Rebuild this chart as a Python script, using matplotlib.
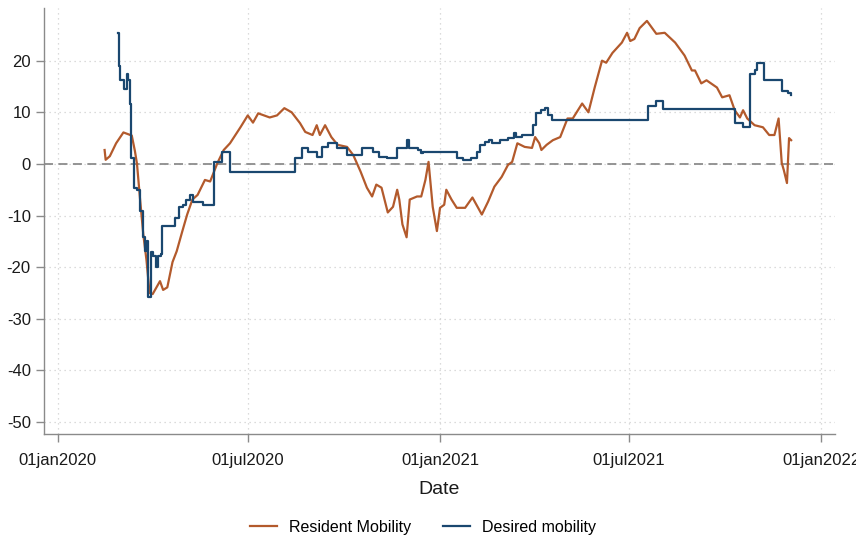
import matplotlib
matplotlib.use("Agg")
import matplotlib.pyplot as plt
import pandas as pd

plt.rcParams.update(
    {
        "font.family": "sans-serif",
        "font.sans-serif": ["Liberation Sans", "Arial", "DejaVu Sans"],
        "axes.unicode_minus": False,
    }
)

RESIDENT_COLOR = "#b35a2c"
DESIRED_COLOR = "#1a476f"

# Resident mobility (daily-ish readings)
resident_dates = [
    "2020-02-15", "2020-02-16", "2020-02-20", "2020-02-26", "2020-03-04", "2020-03-12",
    "2020-03-15", "2020-03-17", "2020-03-20", "2020-03-23", "2020-03-26", "2020-03-29",
    "2020-04-01", "2020-04-08", "2020-04-11", "2020-04-15", "2020-04-20", "2020-04-24",
    "2020-04-29", "2020-05-04", "2020-05-09", "2020-05-14", "2020-05-21", "2020-05-26",
    "2020-06-02", "2020-06-08", "2020-06-14", "2020-06-24", "2020-07-01", "2020-07-06",
    "2020-07-11", "2020-07-22", "2020-07-29", "2020-08-05", "2020-08-12", "2020-08-20",
    "2020-08-25", "2020-09-01", "2020-09-05", "2020-09-08", "2020-09-13", "2020-09-19",
    "2020-09-25", "2020-10-04", "2020-10-10", "2020-10-17", "2020-10-23", "2020-10-28",
    "2020-11-01", "2020-11-06", "2020-11-12", "2020-11-17", "2020-11-21", "2020-11-23",
    "2020-11-26", "2020-11-30", "2020-12-03", "2020-12-10", "2020-12-14", "2020-12-18",
    "2020-12-21", "2020-12-25", "2020-12-29", "2021-01-01", "2021-01-05", "2021-01-07",
    "2021-01-12", "2021-01-17", "2021-01-25", "2021-02-01", "2021-02-10", "2021-02-16",
    "2021-02-22", "2021-03-01", "2021-03-07", "2021-03-11", "2021-03-16", "2021-03-23",
    "2021-03-30", "2021-04-02", "2021-04-06", "2021-04-08", "2021-04-13", "2021-04-19",
    "2021-04-26", "2021-05-03", "2021-05-08", "2021-05-17", "2021-05-23", "2021-05-29",
    "2021-06-05", "2021-06-09", "2021-06-15", "2021-06-24", "2021-06-29", "2021-07-02",
    "2021-07-06", "2021-07-11", "2021-07-18", "2021-07-27", "2021-08-04", "2021-08-14",
    "2021-08-23", "2021-08-30", "2021-09-02", "2021-09-08", "2021-09-13", "2021-09-23",
    "2021-09-28", "2021-10-05", "2021-10-10", "2021-10-15", "2021-10-18", "2021-10-22",
    "2021-10-29", "2021-11-06", "2021-11-12", "2021-11-17", "2021-11-21", "2021-11-24",
    "2021-11-26", "2021-11-29", "2021-12-01", "2021-12-03",
]
resident_values = [
    2.7, 0.8, 1.5, 4.0, 6.1, 5.5,
    2.5, 0.0, -7.0, -13.6, -18.5, -25.0,
    -25.2, -22.7, -24.4, -23.9, -19.0, -16.9,
    -13.3, -9.8, -6.9, -6.0, -3.1, -3.4,
    0.2, 2.7, 4.0, 7.1, 9.4, 8.0,
    9.8, 9.0, 9.4, 10.8, 10.0, 7.9,
    6.2, 5.6, 7.5, 5.6, 7.5, 5.2,
    3.7, 3.3, 1.7, -1.5, -4.6, -6.3,
    -4.0, -4.6, -9.4, -8.3, -5.0, -6.9,
    -11.7, -14.2, -6.9, -6.3, -6.3, -3.1,
    0.4, -8.3, -13.0, -8.5, -7.9, -5.0,
    -6.9, -8.5, -8.5, -6.5, -9.8, -7.3,
    -4.4, -2.5, -0.2, 0.4, 4.0, 3.3,
    3.1, 5.2, 4.0, 2.7, 3.7, 4.6,
    5.2, 8.8, 8.8, 11.7, 10.0, 14.8,
    20.0, 19.6, 21.5, 23.5, 25.4, 23.8,
    24.2, 26.3, 27.7, 25.2, 25.4, 23.5,
    21.0, 18.1, 18.1, 15.6, 16.2, 14.8,
    12.9, 13.3, 10.4, 9.0, 10.4, 8.8,
    7.5, 7.1, 5.6, 5.6, 8.8, 0.2,
    -1.2, -3.7, 5.0, 4.6,
]

# Desired mobility (step changes, value holds until next date)
desired_dates = [
    "2020-02-28", "2020-02-29", "2020-03-01", "2020-03-05", "2020-03-07", "2020-03-08",
    "2020-03-10", "2020-03-11", "2020-03-14", "2020-03-17", "2020-03-20", "2020-03-23",
    "2020-03-25", "2020-03-27", "2020-03-28", "2020-03-30", "2020-04-01", "2020-04-04",
    "2020-04-06", "2020-04-09", "2020-04-10", "2020-04-22", "2020-04-26", "2020-04-30",
    "2020-05-03", "2020-05-07", "2020-05-10", "2020-05-19", "2020-05-30", "2020-06-06",
    "2020-06-14", "2020-08-15", "2020-08-22", "2020-08-28", "2020-09-05", "2020-09-10",
    "2020-09-16", "2020-09-24", "2020-10-04", "2020-10-18", "2020-10-29", "2020-11-04",
    "2020-11-11", "2020-11-21", "2020-11-30", "2020-12-02", "2020-12-11", "2020-12-14",
    "2020-12-16", "2021-01-17", "2021-01-23", "2021-01-31", "2021-02-05", "2021-02-08",
    "2021-02-13", "2021-02-17", "2021-02-20", "2021-02-27", "2021-03-07", "2021-03-13",
    "2021-03-15", "2021-03-20", "2021-03-31", "2021-04-03", "2021-04-08", "2021-04-11",
    "2021-04-14", "2021-04-18", "2021-07-19", "2021-07-27", "2021-08-02", "2021-10-10",
    "2021-10-18", "2021-10-25", "2021-10-29", "2021-10-31", "2021-11-07", "2021-11-24",
    "2021-11-30", "2021-12-03",
]
desired_values = [
    25.4, 19.0, 16.2, 14.6, 17.5, 16.2,
    11.7, 1.2, -4.6, -5.0, -9.2, -14.2,
    -16.9, -15.0, -25.8, -17.0, -17.9, -20.0,
    -17.9, -17.5, -12.1, -10.4, -8.3, -7.9,
    -6.9, -6.0, -7.3, -7.9, 0.4, 2.3,
    -1.5, 1.2, 3.1, 2.3, 1.3, 3.3,
    4.0, 3.1, 1.7, 3.1, 2.3, 1.3,
    1.2, 3.1, 4.6, 3.1, 2.7, 2.1,
    2.4, 1.2, 0.8, 1.2, 2.3, 3.7,
    4.2, 4.6, 4.0, 4.6, 5.0, 6.0,
    5.2, 5.6, 7.5, 9.8, 10.4, 10.8,
    9.4, 8.5, 11.3, 12.1, 10.6, 7.9,
    7.1, 17.5, 18.1, 19.6, 16.3, 14.2,
    13.8, 13.3,
]

tick_dates = ["2020-01-01", "2020-07-01", "2021-01-01", "2021-07-01", "2022-01-01"]
tick_labels = ["01jan2020", "01jul2020", "01jan2021", "01jul2021", "01jan2022"]
y_ticks = [-50, -40, -30, -20, -10, 0, 10, 20]

fig = plt.figure(figsize=(8.56, 5.40), dpi=100, facecolor="white")
ax = fig.add_axes([0.0514, 0.1963, 0.9241, 0.7889])

ax.plot(pd.to_datetime(resident_dates), resident_values, color=RESIDENT_COLOR,
        linewidth=1.6, label="Resident Mobility", zorder=3)
ax.plot(pd.to_datetime(desired_dates), desired_values, color=DESIRED_COLOR,
        linewidth=1.6, drawstyle="steps-post", label="Desired mobility", zorder=4)

ax.axhline(0, color="#8c8c8c", linewidth=1.3, linestyle=(0, (5, 3)), zorder=2)

ax.set_xlim(pd.Timestamp("2019-12-19"), pd.Timestamp("2022-01-14"))
ax.set_ylim(-52.3, 30.2)
ax.set_xticks(pd.to_datetime(tick_dates))
ax.set_xticklabels(tick_labels)
ax.set_yticks(y_ticks)

ax.grid(True, color="#d0d0d0", linestyle=(0, (1, 3)), linewidth=0.9)
ax.set_axisbelow(True)

for side in ("top", "right"):
    ax.spines[side].set_visible(False)
for side in ("left", "bottom"):
    ax.spines[side].set_color("#8a8a8a")
    ax.spines[side].set_linewidth(1.0)

ax.tick_params(axis="both", colors="#8a8a8a", length=6, width=1.0,
               labelcolor="#1a1a1a", labelsize=12)
ax.tick_params(axis="x", pad=8)
ax.set_xlabel("Date", fontsize=14, color="#1a1a1a", labelpad=9)

fig.legend(
    loc="center",
    bbox_to_anchor=(0.494, 0.024),
    ncol=2,
    frameon=False,
    fontsize=11.5,
    handlelength=1.7,
    handletextpad=0.75,
    columnspacing=2.0,
)

fig.savefig("out.png", dpi=100)
